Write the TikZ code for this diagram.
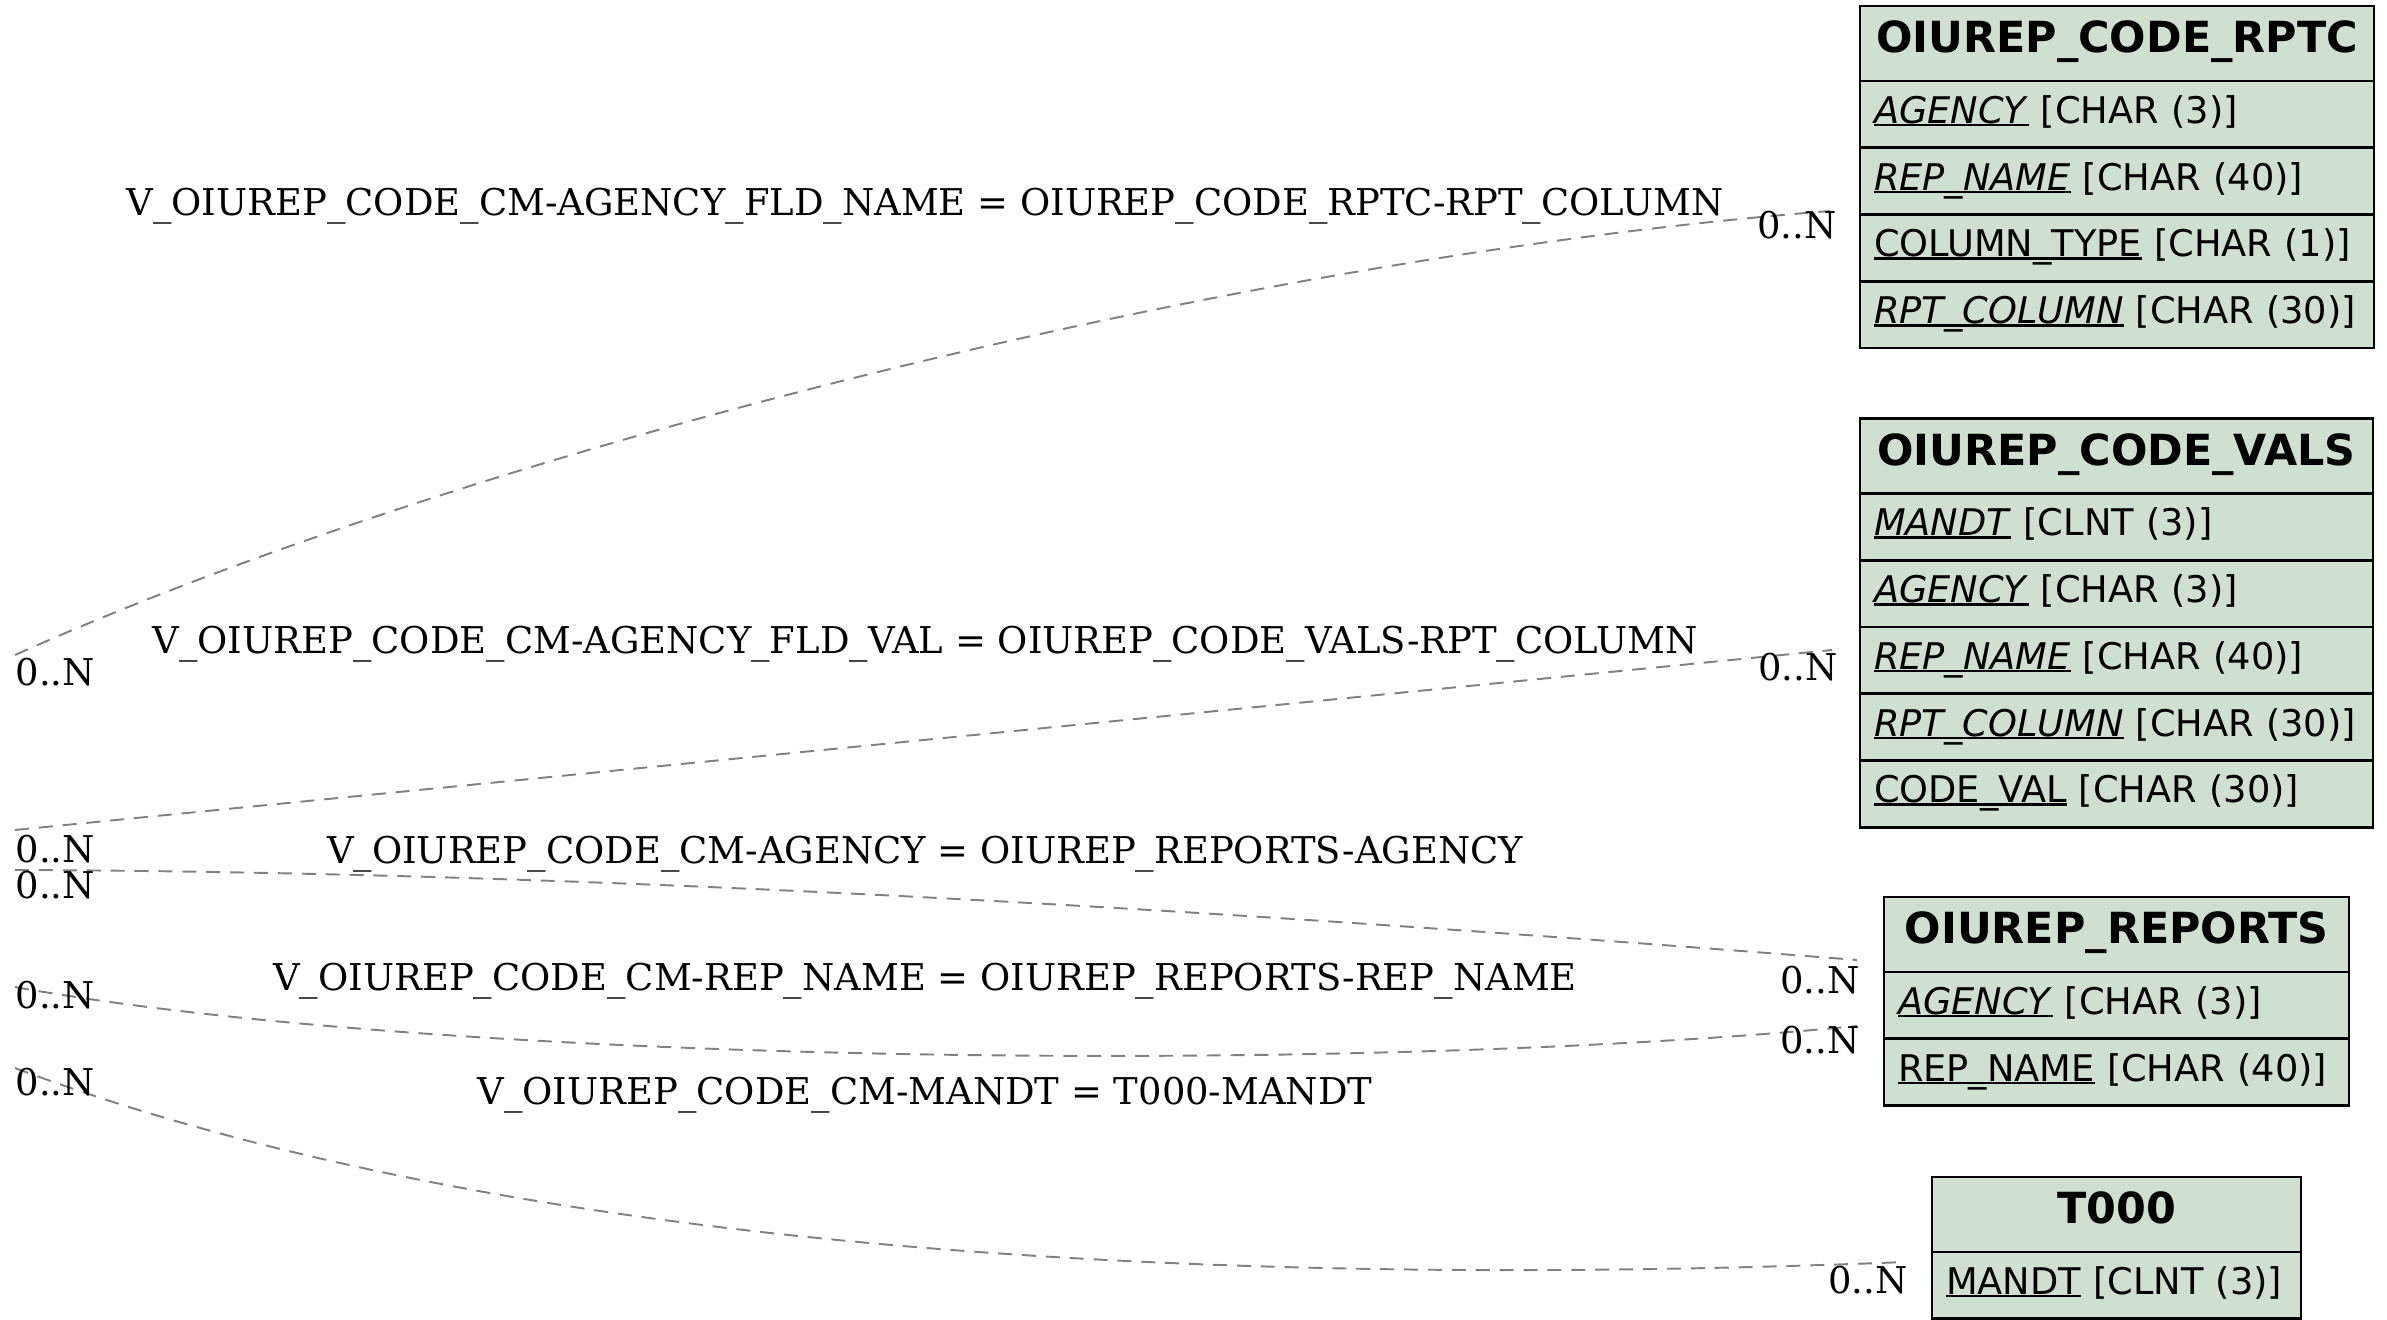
\documentclass[tikz,border=0pt]{standalone}
\usepackage{fontspec}
\usetikzlibrary{positioning}
\newfontfamily\tblfont{DejaVu Sans}
\newfontfamily\lblfont{DejaVu Serif}
\definecolor{tblfill}{RGB}{208,224,208}
\newcommand{\fldu}[1]{\setbox0=\hbox{#1}\rlap{\rule[-0.03cm]{\wd0}{0.025cm}}\box0\relax}
\tikzset{
tblhead/.style={draw, fill=tblfill, line width=0.8pt, outer sep=0pt, inner xsep=0.14cm, inner ysep=0pt,
  text width=#1, align=center, minimum height=0.75cm, text height=0.31cm, text depth=0.13cm,
  font=\tblfont\bfseries\fontsize{12.2}{14}\selectfont},
tblrow/.style={draw, fill=tblfill, line width=0.8pt, outer sep=0pt, inner xsep=0.14cm, inner ysep=0pt,
  text width=#1, align=left, minimum height=0.6675cm, text height=0.27cm, text depth=0.09cm,
  font=\tblfont\fontsize{10.45}{12}\selectfont},
rel/.style={draw=gray, line width=0.55pt, dash pattern=on 4pt off 2.8pt},
rellbl/.style={font=\lblfont\fontsize{10.5}{12}\selectfont, inner sep=0pt, anchor=base},
card/.style={font=\lblfont\fontsize{10.5}{12}\selectfont, inner sep=0pt}
}

\begin{document}
\begin{tikzpicture}
  \useasboundingbox (0,0) rectangle (23.87,-13.19);
  % tables
  \node[tblhead=4.86cm, anchor=north west] (rptc) at (18.60,-0.06) {OIUREP\_CODE\_RPTC};
  \node[tblrow=4.86cm, below=0pt of rptc] (rptc1) {\fldu{\textit{AGENCY}} [CHAR (3)]};
  \node[tblrow=4.86cm, below=0pt of rptc1] (rptc2) {\fldu{\textit{REP\_NAME}} [CHAR (40)]};
  \node[tblrow=4.86cm, below=0pt of rptc2] (rptc3) {\fldu{COLUMN\_TYPE} [CHAR (1)]};
  \node[tblrow=4.86cm, below=0pt of rptc3] (rptc4) {\fldu{\textit{RPT\_COLUMN}} [CHAR (30)]};

  \node[tblhead=4.85cm, anchor=north west] (vals) at (18.60,-4.185) {OIUREP\_CODE\_VALS};
  \node[tblrow=4.85cm, below=0pt of vals] (vals1) {\fldu{\textit{MANDT}} [CLNT (3)]};
  \node[tblrow=4.85cm, below=0pt of vals1] (vals2) {\fldu{\textit{AGENCY}} [CHAR (3)]};
  \node[tblrow=4.85cm, below=0pt of vals2] (vals3) {\fldu{\textit{REP\_NAME}} [CHAR (40)]};
  \node[tblrow=4.85cm, below=0pt of vals3] (vals4) {\fldu{\textit{RPT\_COLUMN}} [CHAR (30)]};
  \node[tblrow=4.85cm, below=0pt of vals4] (vals5) {\fldu{CODE\_VAL} [CHAR (30)]};

  \node[tblhead=4.37cm, anchor=north west] (rep) at (18.84,-8.97) {OIUREP\_REPORTS};
  \node[tblrow=4.37cm, below=0pt of rep] (rep1) {\fldu{\textit{AGENCY}} [CHAR (3)]};
  \node[tblrow=4.37cm, below=0pt of rep1] (rep2) {\fldu{REP\_NAME} [CHAR (40)]};

  \node[tblhead=3.41cm, anchor=north west] (tzero) at (19.32,-11.77) {T000};
  \node[tblrow=3.41cm, below=0pt of tzero] (tzero1) {\fldu{MANDT} [CLNT (3)]};

  % relations
  \coordinate (r1a) at (0.15,-6.55);
  \coordinate (r1b) at (18.30,-2.11);
  \coordinate (r2a) at (0.15,-8.30);
  \coordinate (r2b) at (18.32,-6.50);
  \coordinate (r3a) at (0.15,-8.70);
  \coordinate (r3b) at (18.57,-9.60);
  \coordinate (r4a) at (0.15,-9.87);
  \coordinate (r4b) at (18.57,-10.26);
  \coordinate (r5a) at (0.15,-10.68);
  \coordinate (r5b) at (19.05,-12.62);
  \draw[rel] (r1a) .. controls (4.57,-4.57) and (12.18,-2.59) .. (r1b);
  \draw[rel] (r2a) -- (r2b);
  \draw[rel] (r3a) .. controls (6.15,-8.72) and (12.5,-9.12) .. (r3b);
  \draw[rel] (r4a) .. controls (4.5,-10.65) and (13.5,-10.75) .. (r4b);
  \draw[rel] (r5a) .. controls (5.0,-12.5) and (12.0,-12.9) .. (r5b);

  \node[rellbl] (t1) at (9.25,-2.15) {V\_OIUREP\_CODE\_CM-AGENCY\_FLD\_NAME = OIUREP\_CODE\_RPTC-RPT\_COLUMN};
  \node[rellbl] (t2) at (9.25,-6.53) {V\_OIUREP\_CODE\_CM-AGENCY\_FLD\_VAL = OIUREP\_CODE\_VALS-RPT\_COLUMN};
  \node[rellbl] (t3) at (9.25,-8.63) {V\_OIUREP\_CODE\_CM-AGENCY = OIUREP\_REPORTS-AGENCY};
  \node[rellbl] (t4) at (9.25,-9.90) {V\_OIUREP\_CODE\_CM-REP\_NAME = OIUREP\_REPORTS-REP\_NAME};
  \node[rellbl] (t5) at (9.25,-11.04) {V\_OIUREP\_CODE\_CM-MANDT = T000-MANDT};

  \node[card, anchor=base west] (c1a) at (0.15,-6.85) {0..N};
  \node[card, anchor=base west] (c2a) at (0.15,-8.62) {0..N};
  \node[card, anchor=base west] (c3a) at (0.15,-8.98) {0..N};
  \node[card, anchor=base west] (c4a) at (0.15,-10.08) {0..N};
  \node[card, anchor=base west] (c5a) at (0.15,-10.95) {0..N};
  \node[card, anchor=base east] (c1b) at (18.37,-2.38) {0..N};
  \node[card, anchor=base east] (c2b) at (18.38,-6.80) {0..N};
  \node[card, anchor=base east] (c3b) at (18.60,-9.93) {0..N};
  \node[card, anchor=base east] (c4b) at (18.60,-10.53) {0..N};
  \node[card, anchor=base east] (c5b) at (19.08,-12.93) {0..N};
\end{tikzpicture}
\end{document}
